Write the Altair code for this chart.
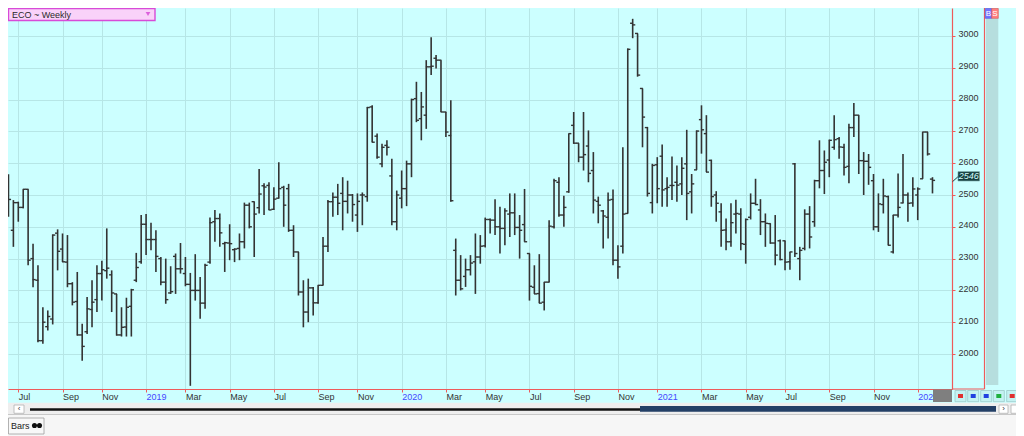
import altair as alt
import pandas as pd

# ---------------- data ----------------
first_week = "2018-06-15"
title_text = "ECO ~ Weekly"
y_ticks = [2000, 2100, 2200, 2300, 2400, 2500, 2600, 2700, 2800, 2900, 3000]

opens = [2360, 2550, 2389, 2476, 2461, 2518, 2300, 2232, 2042, 2086,
         2110, 2380, 2330, 2289, 2221, 2165, 2060, 2070, 2140, 2171,
         2253, 2262, 2249, 2189, 2060, 2085, 2150, 2232, 2290, 2408,
         2360, 2360, 2300, 2226, 2192, 2307, 2268, 2253, 2219, 2200,
         2200, 2160, 2289, 2416, 2426, 2347, 2349, 2328, 2332, 2353,
         2468, 2479, 2460, 2529, 2530, 2455, 2490, 2524, 2520, 2389,
         2321, 2195, 2132, 2208, 2161, 2216, 2339, 2479, 2493, 2505,
         2480, 2500, 2437, 2500, 2495, 2777, 2685, 2598, 2656, 2560,
         2416, 2490, 2520, 2598, 2803, 2740, 2751, 2903, 2930, 2924,
         2761, 2687, 2326, 2232, 2244, 2265, 2290, 2305, 2340, 2423,
         2421, 2400, 2395, 2440, 2444, 2398, 2407, 2316, 2210, 2190,
         2163, 2226, 2400, 2540, 2437, 2510, 2719, 2663, 2619, 2654,
         2577, 2480, 2450, 2430, 2486, 2295, 2339, 2442, 3040, 3008,
         2835, 2712, 2476, 2595, 2622, 2520, 2530, 2540, 2535, 2598,
         2510, 2579, 2737, 2693, 2609, 2500, 2447, 2390, 2353, 2440,
         2440, 2345, 2430, 2474, 2453, 2416, 2410, 2349, 2356, 2356,
         2290, 2598, 2300, 2332, 2440, 2416, 2545, 2577, 2610, 2650,
         2677, 2650, 2590, 2712, 2751, 2608, 2606, 2545, 2400, 2470,
         2495, 2321, 2437, 2475, 2500, 2475, 2500, 2551, 2698, 2550]
highs = [2564, 2565, 2484, 2479, 2518, 2518, 2347, 2279, 2147, 2137,
         2376, 2392, 2379, 2374, 2226, 2258, 2095, 2179, 2232, 2279,
         2293, 2395, 2263, 2189, 2147, 2177, 2205, 2318, 2437, 2440,
         2413, 2389, 2305, 2300, 2276, 2316, 2349, 2305, 2255, 2314,
         2242, 2284, 2429, 2453, 2442, 2353, 2408, 2332, 2379, 2476,
         2476, 2479, 2582, 2537, 2540, 2524, 2603, 2529, 2535, 2405,
         2321, 2232, 2237, 2211, 2216, 2368, 2484, 2508, 2535, 2556,
         2545, 2503, 2505, 2508, 2777, 2782, 2693, 2661, 2672, 2614,
         2514, 2577, 2608, 2803, 2856, 2824, 2924, 2996, 2940, 2924,
         2761, 2798, 2363, 2311, 2300, 2311, 2379, 2374, 2429, 2426,
         2487, 2463, 2458, 2505, 2505, 2437, 2519, 2316, 2279, 2314,
         2226, 2421, 2551, 2556, 2498, 2693, 2761, 2663, 2761, 2703,
         2635, 2495, 2453, 2508, 2517, 2342, 2650, 2961, 3054, 3008,
         2835, 2714, 2598, 2619, 2659, 2556, 2621, 2593, 2619, 2705,
         2566, 2703, 2782, 2751, 2611, 2512, 2474, 2426, 2474, 2485,
         2458, 2426, 2505, 2551, 2487, 2442, 2411, 2437, 2360, 2356,
         2321, 2601, 2337, 2455, 2465, 2548, 2672, 2640, 2674, 2751,
         2682, 2661, 2724, 2789, 2751, 2635, 2629, 2566, 2505, 2551,
         2498, 2437, 2568, 2629, 2508, 2556, 2524, 2698, 2698, 2556]
lows = [2305, 2432, 2337, 2416, 2458, 2279, 2210, 2037, 2032, 2074,
        2093, 2263, 2289, 2210, 2153, 2058, 1979, 2063, 2084, 2132,
        2168, 2237, 2132, 2058, 2055, 2055, 2055, 2226, 2284, 2311,
        2326, 2258, 2216, 2158, 2189, 2189, 2253, 2213, 1900, 2168,
        2111, 2142, 2284, 2353, 2337, 2258, 2295, 2289, 2295, 2332,
        2395, 2305, 2442, 2437, 2453, 2453, 2489, 2400, 2384, 2305,
        2184, 2084, 2100, 2121, 2158, 2216, 2321, 2432, 2437, 2389,
        2442, 2416, 2384, 2405, 2479, 2666, 2614, 2587, 2624, 2405,
        2389, 2458, 2465, 2556, 2729, 2672, 2708, 2877, 2898, 2761,
        2682, 2479, 2184, 2200, 2211, 2247, 2189, 2284, 2335, 2379,
        2374, 2316, 2342, 2368, 2374, 2300, 2353, 2168, 2189, 2160,
        2137, 2226, 2395, 2432, 2400, 2507, 2661, 2603, 2577, 2540,
        2442, 2411, 2332, 2363, 2279, 2237, 2316, 2442, 2993, 2872,
        2650, 2495, 2442, 2474, 2463, 2463, 2484, 2479, 2500, 2421,
        2442, 2579, 2630, 2572, 2463, 2416, 2337, 2326, 2337, 2379,
        2326, 2284, 2423, 2468, 2374, 2337, 2347, 2279, 2295, 2263,
        2265, 2305, 2232, 2326, 2332, 2400, 2521, 2503, 2556, 2642,
        2614, 2561, 2537, 2682, 2566, 2500, 2532, 2389, 2384, 2442,
        2342, 2316, 2429, 2474, 2416, 2463, 2421, 2551, 2624, 2505]
closes = [2540, 2486, 2476, 2461, 2518, 2295, 2234, 2042, 2100, 2118,
          2374, 2323, 2290, 2221, 2163, 2060, 2024, 2142, 2163, 2253,
          2265, 2270, 2192, 2060, 2084, 2147, 2202, 2272, 2408, 2360,
          2360, 2307, 2226, 2171, 2196, 2268, 2268, 2219, 2200, 2200,
          2160, 2279, 2413, 2426, 2381, 2350, 2347, 2330, 2353, 2468,
          2400, 2440, 2503, 2525, 2453, 2487, 2520, 2468, 2389, 2321,
          2195, 2132, 2208, 2161, 2216, 2339, 2479, 2493, 2474, 2480,
          2500, 2470, 2480, 2500, 2775, 2666, 2619, 2650, 2650, 2416,
          2500, 2520, 2598, 2800, 2735, 2777, 2903, 2905, 2924, 2761,
          2698, 2482, 2232, 2205, 2265, 2286, 2305, 2339, 2423, 2421,
          2400, 2395, 2450, 2444, 2398, 2389, 2353, 2213, 2189, 2160,
          2226, 2402, 2545, 2437, 2461, 2693, 2663, 2619, 2627, 2568,
          2484, 2468, 2434, 2484, 2295, 2274, 2440, 2958, 3035, 2877,
          2745, 2505, 2593, 2520, 2516, 2524, 2530, 2531, 2584, 2505,
          2535, 2701, 2705, 2572, 2495, 2474, 2389, 2353, 2413, 2442,
          2347, 2423, 2474, 2470, 2416, 2411, 2349, 2311, 2297, 2289,
          2321, 2316, 2326, 2440, 2368, 2545, 2577, 2603, 2672, 2674,
          2651, 2587, 2712, 2751, 2608, 2606, 2587, 2400, 2472, 2497,
          2342, 2437, 2461, 2500, 2474, 2519, 2519, 2698, 2629, 2546]

# ---------------- table ----------------
dates = pd.date_range(first_week, periods=len(closes), freq="7D")
df = pd.DataFrame({"date": dates.strftime("%Y-%m-%d"), "open": opens,
                   "high": highs, "low": lows, "close": closes})

tick_dates = [d for d in dates if d.month % 2 == 1 and d.day <= 7]
tick_ms = [int(d.value // 10**6) for d in tick_dates]

t0 = pd.Timestamp(first_week)
x_domain = [int((t0 + pd.Timedelta(days=7 * 0.905)).value // 10**6),
            int((t0 + pd.Timedelta(days=7 * 192.97)).value // 10**6)]

W, H = 944, 381
BG = "#ccffff"
GRID = "#b6e6e6"
RED = "#ee5a5a"
BAR = "#333333"
FONT = "Liberation Sans"

xs = alt.Scale(type="utc", domain=x_domain)
ys = alt.Scale(domain=[1890, 3088], nice=False, zero=False)

x_axis = alt.Axis(
    values=tick_ms, title=None, grid=True, gridColor=GRID, gridWidth=1,
    labelExpr="utcmonth(datum.value) == 0 ? utcFormat(datum.value, '%Y') : utcFormat(datum.value, '%b')",
    labelAlign="left", labelBaseline="top", labelPadding=0, labelFont=FONT,
    labelFontSize=9, labelFlush=False, labelOverlap=False,
    labelColor={"condition": {"test": "utcmonth(datum.value) == 0", "value": "#4646ff"}, "value": "#333333"},
    tickColor=RED, tickSize=3, domainColor=RED, domainWidth=1.2)
y_axis = alt.Axis(
    orient="right", values=y_ticks, format="d", title=None, grid=True, gridColor=GRID, gridWidth=1,
    labelFont=FONT, labelFontSize=9, labelColor="#333333", labelPadding=3,
    labelOffset=-2, tickColor=RED, tickSize=3, domainColor=RED, domainWidth=1.2)


def Y(field):
    return alt.Y(field, scale=ys, axis=y_axis)


def X():
    return alt.X("date:T", scale=xs, axis=x_axis)


hl = alt.Chart(df).mark_rule(color=BAR, strokeWidth=1.6, clip=True).encode(
    x=X(), y=Y("low:Q"), y2="high:Q")
op = alt.Chart(df).mark_rule(color=BAR, strokeWidth=1.4, xOffset=-2.6, x2Offset=0.4, clip=True).encode(
    x=X(), x2="date:T", y=Y("open:Q"))
cl = alt.Chart(df).mark_rule(color=BAR, strokeWidth=1.4, xOffset=-0.4, x2Offset=2.6, clip=True).encode(
    x=X(), x2="date:T", y=Y("close:Q"))

# last price label
last = pd.DataFrame({"price": [closes[-1]], "txt": [str(closes[-1])]})
lab_box = alt.Chart(last).mark_rect(fill="#173f3f", stroke="#6fa0a0", strokeWidth=0.6,
                                    yOffset=-8.7, y2Offset=0.6).encode(
    x=alt.value(950), x2=alt.value(971.5), y=Y("price:Q"), y2="price:Q")
lab_txt = alt.Chart(last).mark_text(font=FONT, fontSize=9, fontStyle="italic", color="#d4ffff",
                                    align="center", baseline="middle", yOffset=-4).encode(
    x=alt.value(960.7), y=Y("price:Q"), text="txt:N")
lab_link = alt.Chart(last).mark_rule(color="#173f3f", strokeWidth=1, yOffset=1.3, y2Offset=-3.7).encode(
    x=alt.value(944.5), x2=alt.value(950), y=Y("price:Q"), y2="price:Q")

# ---------------- window chrome ----------------
dummy = pd.DataFrame({"k": [0]})


def box(x, x2, y, y2, fill, stroke=None, sw=1.0):
    kw = {"fill": fill}
    if stroke:
        kw.update(stroke=stroke, strokeWidth=sw)
    else:
        kw.update(strokeWidth=0)
    return alt.Chart(dummy).mark_rect(**kw).encode(
        x=alt.value(x), x2=alt.value(x2), y=alt.value(y), y2=alt.value(y2))


def txt(x, y, s, size=9, color="#222222", align="left", **kw):
    return alt.Chart(dummy).mark_text(text=s, font=FONT, fontSize=size, color=color,
                                      align=align, baseline="middle", **kw).encode(
        x=alt.value(x), y=alt.value(y))


def line(x, x2, y, y2, color, sw=1.0):
    return alt.Chart(dummy).mark_rule(color=color, strokeWidth=sw).encode(
        x=alt.value(x), x2=alt.value(x2), y=alt.value(y), y2=alt.value(y2))


chrome = [
    # title box
    box(0.5, 147, 0.5, 12.5, "#f9d2f9", "#d84ad8", 1.4),
    txt(4, 6.8, title_text, size=9, color="#2a2a2a"),
    alt.Chart(dummy).mark_point(shape="triangle-down", filled=True, color="#d030d0", size=22).encode(
        x=alt.value(140), y=alt.value(6)),
    # right strip
    line(976.5, 976.5, -8, 381, RED, 1.2),
    line(944, 976.5, 381, 381, RED, 1.2),
    box(978, 990.3, 10.3, 377, "#b6dede"),
    box(977.3, 983.7, 0.5, 10.3, "#7373ff", "#4b4bd8", 0.6),
    box(983.7, 990.3, 0.5, 10.3, "#ff7f7f", "#d85050", 0.6),
    txt(980.5, 5.6, "B", size=8, color="#ffffff", align="center"),
    txt(987, 5.6, "S", size=8, color="#ffffff", align="center"),
    # x-axis corner block and buttons
    box(925, 944, 381.5, 394, "#7f7f7f"),
]
btn_x = [947, 959.7, 972.7, 985.3, 998.7]
btn_c = ["#e03030", "#2040e0", "#2040e0", "#20b040", "#e03030"]
for bx, bc in zip(btn_x, btn_c):
    chrome.append(box(bx, bx + 11, 382.5, 393.7, "#c4f2f2", "#9cc8c8", 0.8))
    chrome.append(box(bx + 3, bx + 8, 386, 390, bc))
chrome += [
    # bottom panel
    box(0, 1008, 394.7, 428, "#eeeeee"),
    box(6, 16, 397, 405.3, "#ffffff", "#b0b0b0", 0.8),
    txt(11, 401, "‹", size=8, color="#333333", align="center"),
    box(22, 632, 400.3, 402.7, "#111111"),
    box(632, 988, 398, 403.7, "#233f66"),
    box(991, 1000, 397, 405.3, "#ffffff", "#b0b0b0", 0.8),
    txt(995.5, 401, "›", size=8, color="#333333", align="center"),
    box(1003, 1012, 397, 405.3, "#ffffff", "#b0b0b0", 0.8),
    line(0, 1008, 406.5, 406.5, "#c8c8c8", 1),
    box(0, 1008, 407, 428, "#f6f6f6"),
    box(0.5, 36, 410, 426, "#f8f8f8", "#a0a0a0", 0.8),
    txt(3, 417.5, "Bars", size=9, color="#222222"),
    alt.Chart(pd.DataFrame({"cx": [26.5, 31.5]})).mark_point(
        filled=True, color="#111111", size=26, opacity=1).encode(
        x=alt.X("cx:Q", scale=None), y=alt.value(417.5)),
]

chart = alt.layer(hl, op, cl, lab_link, lab_box, lab_txt, *chrome).properties(
    width=W, height=H, background=BG,
    padding={"left": 0, "top": 0, "right": 64, "bottom": 47},
    autosize=alt.AutoSizeParams(type="none"),
).configure_view(strokeWidth=0, fill=BG)

chart.save("out.html", embed_options={"renderer": "svg", "actions": False})
